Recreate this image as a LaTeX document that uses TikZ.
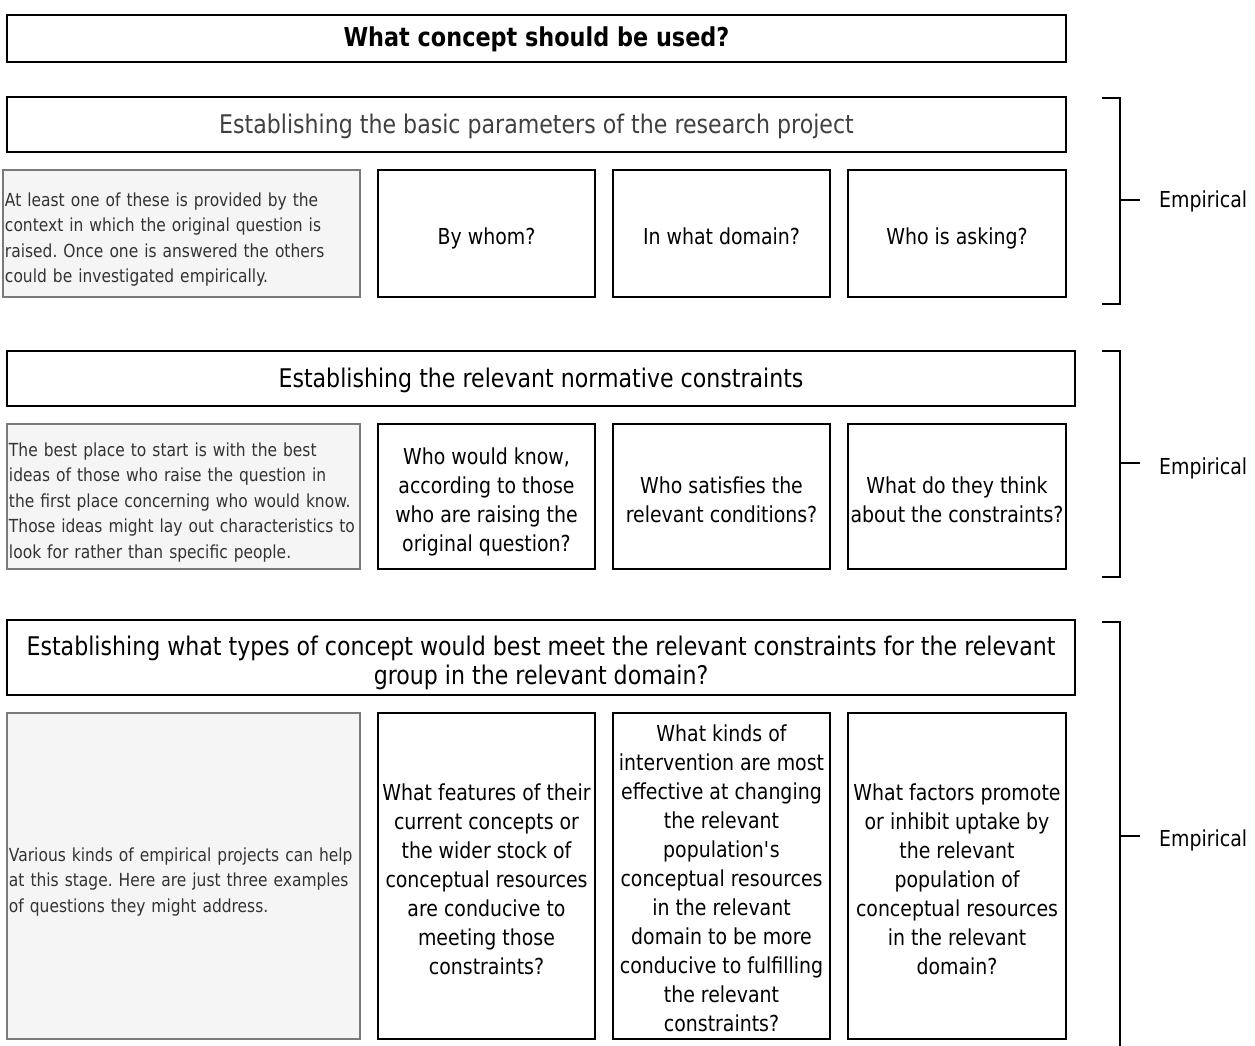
\documentclass[tikz,border=0pt]{standalone}
\usepackage{fontspec}
\setmainfont{DejaVu Sans}[FakeStretch=0.86]
\usepackage{xcolor}
\definecolor{graytxt}{HTML}{333333}
\definecolor{grayfill}{HTML}{F5F5F5}
\definecolor{grayline}{HTML}{7A7A7A}
\definecolor{headgray}{HTML}{404040}
\frenchspacing
\newcommand\tst[1]{\rule{0pt}{#1}}
\newcommand\wT{\tst{31pt}}
\begin{document}
\begin{tikzpicture}[x=1pt,y=-1pt,
  topstrut/.style={execute at begin node={\rule{0pt}{#1}}},
  botstrut/.style={execute at end node={\rule[-#1]{0pt}{#1}}},
  frame/.style={draw=black, line width=1.4pt, fill=white, inner sep=0pt, align=center},
  wbox/.style={frame, font=\fontsize{22}{29}\selectfont},
  wboxb/.style={wbox, botstrut=8.7pt},
  hbox/.style={frame, font=\fontsize{25.7}{29}\selectfont, botstrut=8.7pt},
  tbox/.style={frame, font=\fontsize{26}{29}\bfseries\selectfont, botstrut=8.7pt},
  gbox/.style={draw=grayline, line width=1.8pt, fill=grayfill, inner xsep=2pt, inner ysep=0pt,
    align=left, text=graytxt, font=\fontsize{18}{25.5}\selectfont, topstrut=29.45pt, botstrut=7.65pt},
  brk/.style={draw=black, line width=1.4pt},
  lbl/.style={anchor=west, inner sep=0pt, font=\fontsize{22}{29}\selectfont}]
\useasboundingbox (0,0) rectangle (1255,1046);

% title
\node[tbox, minimum width=1059pt, minimum height=47pt] (title) at (536.5,38.5) {\tst{25.3pt}What concept should be used?};

% section 1
\node[hbox, minimum width=1059pt, minimum height=55pt, text=headgray] (h1) at (536.5,124.5) {\tst{26.3pt}Establishing the basic parameters of the research project};
\node[gbox, text width=353pt, minimum height=127pt] (g1) at (181.5,233.5) {At least one of these is provided by the\\context in which the original question is\\raised. Once one is answered the others\\could be investigated empirically.};
\node[wboxb, minimum width=217pt, minimum height=127pt] (b11) at (486.5,233.5) {\wT By whom?};
\node[wboxb, minimum width=217pt, minimum height=127pt] (b12) at (721.5,233.5) {\wT In what domain?};
\node[wboxb, minimum width=218pt, minimum height=127pt] (b13) at (957,233.5) {\wT Who is asking?};

% section 2
\node[hbox, minimum width=1068pt, minimum height=55pt] (h2) at (541,378.5) {\tst{26.3pt}Establishing the relevant normative constraints};
\node[gbox, text width=349pt, minimum height=145pt] (g2) at (183.5,496.5) {The best place to start is with the best\\ideas of those who raise the question in\\the first place concerning who would know.\\Those ideas might lay out characteristics to\\look for rather than specific people.};
\node[wboxb, minimum width=217pt, minimum height=145pt] (b21) at (486.5,496.5) {\wT Who would know,\\according to those\\who are raising the\\original question?};
\node[wboxb, minimum width=217pt, minimum height=145pt] (b22) at (721.5,496.5) {\wT Who satisfies the\\relevant conditions?};
\node[wboxb, minimum width=218pt, minimum height=145pt] (b23) at (957,496.5) {\wT What do they think\\about the constraints?};

% section 3
\node[hbox, minimum width=1068pt, minimum height=75pt] (h3) at (541,657.5) {\tst{33.8pt}Establishing what types of concept would best meet the relevant constraints for the relevant\\group in the relevant domain?};
\node[gbox, text width=349pt, minimum height=326pt] (g3) at (183.5,876) {Various kinds of empirical projects can help\\at this stage. Here are just three examples\\of questions they might address.};
\node[wboxb, minimum width=217pt, minimum height=326pt] (b31) at (486.5,876) {\wT What features of their\\current concepts or\\the wider stock of\\conceptual resources\\are conducive to\\meeting those\\constraints?};
\node[wbox, botstrut=7.5pt, minimum width=217pt, minimum height=326pt] (b32) at (721.5,876) {\tst{28.5pt}What kinds of\\intervention are most\\effective at changing\\the relevant\\population\textquotesingle s\\conceptual resources\\in the relevant\\domain to be more\\conducive to fulfilling\\the relevant\\constraints?};
\node[wboxb, minimum width=218pt, minimum height=326pt] (b33) at (957,876) {\wT What factors promote\\or inhibit uptake by\\the relevant\\population of\\conceptual resources\\in the relevant\\domain?};

% brackets
\coordinate (k1t) at (1102,98);
\coordinate (k1b) at (1102,304);
\coordinate (k1m) at (1120,200);
\draw[brk] (k1t) -| (k1m) |- (k1b);
\draw[brk] (k1m) -- ++(20,0) coordinate (k1e);
\node[lbl] (e1) at (1159,201) {Empirical};

\coordinate (k2t) at (1102,351);
\coordinate (k2b) at (1102,577);
\coordinate (k2m) at (1120,463);
\draw[brk] (k2t) -| (k2m) |- (k2b);
\draw[brk] (k2m) -- ++(20,0) coordinate (k2e);
\node[lbl] (e2) at (1159,468) {Empirical};

\coordinate (k3t) at (1102,622);
\coordinate (k3b) at (1120,1050);
\coordinate (k3m) at (1120,836);
\draw[brk] (k3t) -| (k3b);
\draw[brk] (k3m) -- ++(20,0) coordinate (k3e);
\node[lbl] (e3) at (1159,840) {Empirical};
\end{tikzpicture}
\end{document}
